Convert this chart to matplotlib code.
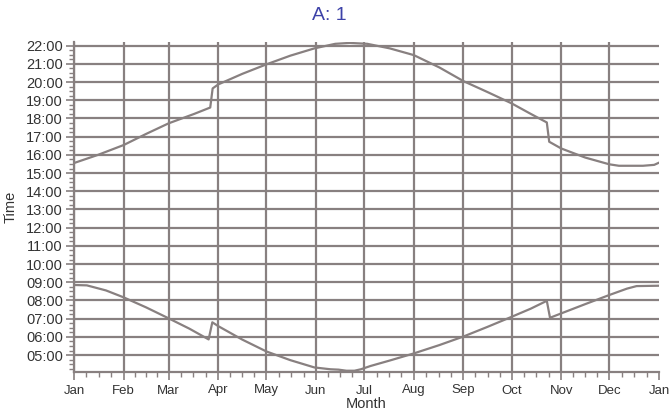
import numpy as np
import matplotlib
matplotlib.use('Agg')
import matplotlib.pyplot as plt
from matplotlib.ticker import FixedLocator, FuncFormatter, MultipleLocator

# day of year (0 = 1 Jan) and time of day in hours
sunset_days = [0, 15, 31, 45, 59, 75, 85, 86.5, 90, 105, 120, 135, 150, 163, 172, 183,
               197, 212, 228, 243, 258, 273, 285, 295, 296.5, 304, 319, 334, 340, 355, 362, 365]
sunset_hours = [15.55, 16.0, 16.54, 17.15, 17.73, 18.25, 18.6, 19.65, 19.87, 20.45, 20.97, 21.45,
                21.85, 22.1, 22.15, 22.1, 21.85, 21.48, 20.8, 20.05, 19.45, 18.83, 18.25, 17.78,
                16.72, 16.35, 15.85, 15.48, 15.4, 15.4, 15.45, 15.57]

sunrise_days = [0, 8, 20, 31, 45, 59, 72, 84, 86.3, 90, 105, 120, 135, 150, 160, 165, 170,
                175, 179, 185, 197, 212, 228, 243, 258, 273, 285, 295, 297, 304, 319, 334, 345,
                351, 365]
sunrise_hours = [8.85, 8.83, 8.55, 8.17, 7.62, 7.02, 6.45, 5.86, 6.8, 6.59, 5.85, 5.2, 4.72,
                 4.32, 4.22, 4.2, 4.14, 4.14, 4.22, 4.4, 4.7, 5.09, 5.55, 6.02, 6.55, 7.1, 7.55,
                 7.98, 7.05, 7.29, 7.8, 8.3, 8.65, 8.79, 8.81]

months = ['Jan', 'Feb', 'Mar', 'Apr', 'May', 'Jun', 'Jul', 'Aug', 'Sep', 'Oct', 'Nov', 'Dec', 'Jan']
month_start = [0, 31, 59, 90, 120, 151, 181, 212, 243, 273, 304, 334, 365]

gray = '#888080'
txt = '#333333'

plt.rcParams['font.family'] = ['Liberation Sans', 'DejaVu Sans']

fig = plt.figure(figsize=(6.69, 4.12), dpi=100)
ax = fig.add_axes([74 / 669, 1 - 372 / 412, 585 / 669, 330 / 412])

ax.plot(sunset_days, sunset_hours, color=gray, lw=1.6, zorder=3)
ax.plot(sunrise_days, sunrise_hours, color=gray, lw=1.6, zorder=3)

ax.set_xlim(0, 365)
ax.set_ylim(4.07, 22.2)

ax.xaxis.set_major_locator(FixedLocator(month_start))
ax.set_xticklabels(months)
minor = []
for i in range(12):
    a, b = month_start[i], month_start[i + 1]
    for k in (1, 2, 3):
        minor.append(a + k * (b - a) / 4)
ax.xaxis.set_minor_locator(FixedLocator(minor))

ax.yaxis.set_major_locator(FixedLocator(list(range(5, 23))))
ax.yaxis.set_minor_locator(MultipleLocator(0.25))
ax.yaxis.set_major_formatter(FuncFormatter(lambda v, p: '%02d:00' % int(round(v))))

ax.grid(True, which='major', color=gray, lw=1.6, zorder=1)
ax.get_xgridlines()[-1].set_visible(False)

for s in ['top', 'right']:
    ax.spines[s].set_visible(False)
for s in ['left', 'bottom']:
    ax.spines[s].set_color(gray)
    ax.spines[s].set_linewidth(1.6)

ax.tick_params(which='major', length=6, width=1.2, color=gray, labelsize=10.5, labelcolor=txt)
ax.tick_params(which='minor', length=3.5, width=1.0, color=gray)
ax.tick_params(axis='x', pad=3, labelsize=9.5)
ax.tick_params(axis='y', pad=2)

ax.set_xlabel('Month', fontsize=10.5, color=txt, labelpad=0)
ax.set_ylabel('Time', fontsize=10.5, color=txt, labelpad=6)

fig.text(0.492, 0.963, 'A: 1', ha='center', va='center', fontsize=14, color='#3d42a8')

fig.savefig('out.png', dpi=100)
